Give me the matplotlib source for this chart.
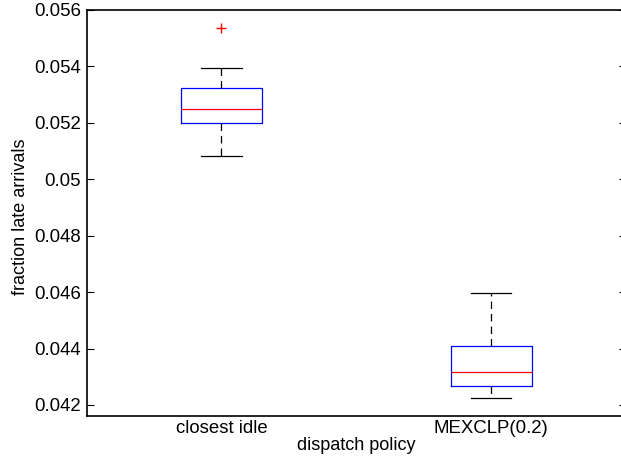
import matplotlib
matplotlib.use("Agg")
import matplotlib.pyplot as plt

plt.rcParams['font.family'] = ['Liberation Sans', 'DejaVu Sans']

# box statistics
policies = ['closest idle', 'MEXCLP(0.2)']
medians = [0.05249, 0.04317]
q1 = [0.05200, 0.04266]
q3 = [0.05322, 0.04408]
whisker_lo = [0.05084, 0.04226]
whisker_hi = [0.05396, 0.04597]
outliers = [[0.05535], []]

yticks = [0.042, 0.044, 0.046, 0.048, 0.05, 0.052, 0.054, 0.056]
ytick_labels = ['0.042', '0.044', '0.046', '0.048', '0.05', '0.052', '0.054', '0.056']

stats = []
for i, name in enumerate(policies):
    stats.append({
        'label': name,
        'med': medians[i],
        'q1': q1[i],
        'q3': q3[i],
        'whislo': whisker_lo[i],
        'whishi': whisker_hi[i],
        'fliers': outliers[i],
    })

fig = plt.figure(figsize=(6.21, 4.57), dpi=100)
ax = fig.add_axes([86.5 / 621, 1 - 415.7 / 457, (626 - 86.5) / 621, (415.7 - 10) / 457])

ax.bxp(stats, positions=[1, 2], widths=0.3,
       boxprops=dict(color='blue', linewidth=0.9),
       medianprops=dict(color='red', linewidth=0.9),
       whiskerprops=dict(color='black', linestyle=(0, (6, 4)), linewidth=0.9),
       capprops=dict(color='black', linewidth=0.9),
       flierprops=dict(marker='+', markeredgecolor='red', markersize=7,
                       linestyle='none'))

ax.set_xlim(0.5, 2.5)
ax.set_ylim(0.04162, 0.056)
ax.set_yticks(yticks)
ax.set_yticklabels(ytick_labels)
ax.set_xticks([1, 2])
ax.set_xticklabels(policies)

ax.tick_params(axis='y', direction='in', length=5, right=True, labelsize=13.4, width=0.8, pad=4)
ax.tick_params(axis='x', length=0, labelsize=13.4, pad=3)
for s in ax.spines.values():
    s.set_linewidth(1.2)

ax.set_xlabel('dispatch policy', fontsize=13, labelpad=0)
ax.set_ylabel('fraction late arrivals', fontsize=13)
ax.yaxis.set_label_coords(-0.107, 0.49)

fig.savefig('out.png', dpi=100)
